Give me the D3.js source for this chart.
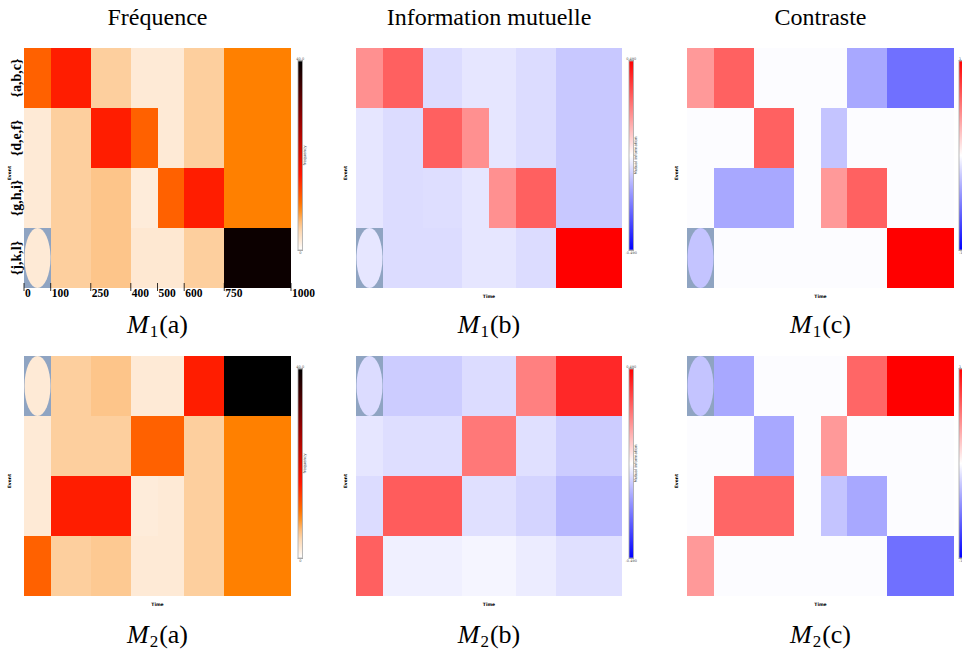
<!DOCTYPE html>
<html>
  <head>
    <meta charset="utf-8" />
    <script src="https://d3js.org/d3.v7.min.js"></script>
    <style>
      body { margin: 0; background: #fff; }
      svg { display: block; }
    </style>
  </head>
  <body>
    <svg id="fig" width="962" height="650"></svg>
    <script>
      // bins on the time axis and event groups
      const timeEdges = [0, 100, 250, 400, 500, 600, 750, 1000];
      const tickLabels = ["0", "100", "250", "400", "500", "600", "750", "1000"];
      const events = ["{a,b,c}", "{d,e,f}", "{g,h,i}", "{j,k,l}"];
      const columnTitles = ["Fréquence", "Information mutuelle", "Contraste"];
      const rowNames = ["1", "2"];
      const colLetters = ["a", "b", "c"];

      // M1 : frequency, mutual information, contrast (rows = events, cols = time bins)
      const freqM1 = [
        [11, 15.5, 5, 2, 2, 5, 9],
        [2, 5, 15.5, 11, 2, 5, 9],
        [2, 5, 5.5, 1.8, 11, 15.5, 9],
        [2, 5, 5.5, 2.2, 2.2, 5, 39]
      ];
      const miM1 = [
        [0.213, 0.306, -0.067, -0.049, -0.049, -0.067, -0.106],
        [-0.049, -0.067, 0.306, 0.213, -0.049, -0.067, -0.106],
        [-0.049, -0.067, -0.064, -0.049, 0.213, 0.306, -0.106],
        [-0.049, -0.067, -0.067, -0.049, -0.049, -0.067, 0.49]
      ];
      const contrastM1 = [
        [0.4, 0.62, -0.01, -0.01, -0.01, -0.34, -0.56],
        [-0.01, -0.01, 0.62, -0.01, -0.23, -0.01, -0.01],
        [-0.01, -0.34, -0.34, -0.01, 0.4, 0.62, -0.01],
        [-0.23, -0.01, -0.01, -0.01, -0.01, -0.01, 1]
      ];

      // M2
      const freqM2 = [
        [2, 5, 5.5, 2, 2, 15.5, 40],
        [2, 5, 5, 11, 11, 5, 9],
        [2, 15.5, 15.5, 1.8, 2, 5, 9],
        [11, 5, 5.3, 2, 2, 5, 9]
      ];
      const miM2 = [
        [-0.067, -0.098, -0.098, -0.067, -0.067, 0.245, 0.413],
        [-0.049, -0.064, -0.064, 0.26, 0.26, -0.059, -0.098],
        [-0.067, 0.314, 0.314, -0.059, -0.059, -0.083, -0.137],
        [0.306, -0.029, -0.029, -0.02, -0.02, -0.037, -0.059]
      ];
      const contrastM2 = [
        [-0.23, -0.34, -0.01, -0.01, -0.01, 0.6, 1],
        [-0.01, -0.01, -0.34, -0.01, 0.4, -0.01, -0.01],
        [-0.01, 0.6, 0.6, -0.01, -0.23, -0.34, -0.01],
        [0.4, -0.01, -0.01, -0.01, -0.01, -0.01, -0.56]
      ];

      const serif = "Liberation Serif, Times New Roman, serif";
      const svg = d3.select("#fig");
      const defs = svg.append("defs");

      var freqColor = d3
        .scaleLinear()
        .domain([0, 2, 5, 9, 16, 28, 40])
        .range(["#ffffff", "#feead6", "#fdcf9e", "#ff8000", "#ff1500", "#900000", "#000000"])
        .clamp(true);

      function divColor(m) {
        return d3
          .scaleLinear()
          .domain([-m, 0, m])
          .range(["#0000ff", "#ffffff", "#ff0000"])
          .clamp(true);
      }

      const panels = [
        { row: 0, col: 0, data: freqM1, color: freqColor, cb: ["40.0", "0"], cbName: "frequency" },
        { row: 0, col: 1, data: miM1, color: divColor(0.49), cb: ["0.490", "-0.490"], cbName: "Mutual information" },
        { row: 0, col: 2, data: contrastM1, color: divColor(1), cb: ["1", "-1"], cbName: "" },
        { row: 1, col: 0, data: freqM2, color: freqColor, cb: ["40.0", "0"], cbName: "frequency" },
        { row: 1, col: 1, data: miM2, color: divColor(0.49), cb: ["0.490", "-0.490"], cbName: "Mutual information" },
        { row: 1, col: 2, data: contrastM2, color: divColor(1), cb: ["1", "-1"], cbName: "" }
      ];

      // panel frames
      const plotX = [[24, 291], [356, 622], [687, 954]];
      const plotY = [[48, 288], [356, 596]];
      const cbX = [298, 629, 959];

      // column titles
      svg
        .selectAll(".title")
        .data(columnTitles)
        .enter()
        .append("text")
        .attr("x", (d, i) => (plotX[i][0] + plotX[i][1]) / 2)
        .attr("y", 25)
        .attr("text-anchor", "middle")
        .attr("font-family", serif)
        .attr("font-size", 24)
        .text((d) => d);

      panels.forEach(function (p, k) {
        var x = d3.scaleLinear().domain([0, 1000]).range(plotX[p.col]);
        var y = d3.scaleBand().domain(events).range(plotY[p.row]);
        var g = svg.append("g");

        var cells = [];
        p.data.forEach(function (row, r) {
          row.forEach(function (v, c) {
            cells.push({ ev: events[r], t0: timeEdges[c], t1: timeEdges[c + 1], v: v });
          });
        });

        g.selectAll("rect.cell")
          .data(cells)
          .enter()
          .append("rect")
          .attr("class", "cell")
          .attr("x", (d) => Math.round(x(d.t0)))
          .attr("y", (d) => Math.round(y(d.ev)))
          .attr("width", (d) => Math.round(x(d.t1)) - Math.round(x(d.t0)))
          .attr("height", Math.round(y.bandwidth()))
          .attr("shape-rendering", "crispEdges")
          .attr("fill", (d) => p.color(d.v));

        // odd corner artefact: the first bin of the bottom row (M1) / top row (M2)
        var odd = cells.filter(
          (d) => d.t0 === 0 && d.ev === (p.row === 0 ? events[3] : events[0])
        )[0];
        var ox = Math.round(x(odd.t0)), ow = Math.round(x(odd.t1)) - ox;
        var oy = Math.round(y(odd.ev)), oh = Math.round(y.bandwidth());
        g.append("rect")
          .attr("x", ox).attr("y", oy).attr("width", ow).attr("height", oh)
          .attr("shape-rendering", "crispEdges")
          .attr("fill", "#8fa4c2");
        g.append("ellipse")
          .attr("cx", ox + ow / 2).attr("cy", oy + oh / 2)
          .attr("rx", ow / 2 - 0.5).attr("ry", oh / 2)
          .attr("fill", p.color(odd.v));

        var y0 = plotY[p.row][0], y1 = plotY[p.row][1];
        var xm = (plotX[p.col][0] + plotX[p.col][1]) / 2;

        if (k === 0) {
          // bold tick labels on the first panel
          g.selectAll("line.tick")
            .data(timeEdges)
            .enter()
            .append("line")
            .attr("x1", (d) => x(d)).attr("x2", (d) => x(d))
            .attr("y1", y1 - 5).attr("y2", y1 + 3)
            .attr("stroke", "#000").attr("stroke-width", 0.8);
          g.selectAll("text.tick")
            .data(timeEdges)
            .enter()
            .append("text")
            .attr("x", (d) => x(d) + 1)
            .attr("y", y1 + 9)
            .attr("font-family", serif)
            .attr("font-weight", "bold")
            .attr("font-size", 11.5)
            .text((d, i) => tickLabels[i]);
          g.selectAll("text.ev")
            .data(events)
            .enter()
            .append("text")
            .attr("transform", (d) => "translate(21," + (y(d) + y.bandwidth() / 2) + ") rotate(-90)")
            .attr("text-anchor", "middle")
            .attr("font-family", serif)
            .attr("font-weight", "bold")
            .attr("font-size", 14)
            .text((d) => d);
        } else {
          g.append("text")
            .attr("x", xm).attr("y", y1 + 10)
            .attr("text-anchor", "middle")
            .attr("font-family", "DejaVu Sans, sans-serif")
            .attr("font-weight", "bold")
            .attr("font-size", 4.5)
            .text("Time");
        }
        g.append("text")
          .attr("transform", "translate(" + (plotX[p.col][0] - (p.col === 0 ? 13 : 9)) + "," + (y0 + 125) + ") rotate(-90)")
          .attr("text-anchor", "middle")
          .attr("font-family", "DejaVu Sans, sans-serif")
          .attr("font-weight", "bold")
          .attr("font-size", 4.5)
          .text("Event");

        // colour bar
        var gid = "grad" + k;
        var grad = defs.append("linearGradient")
          .attr("id", gid)
          .attr("x1", 0).attr("x2", 0).attr("y1", 1).attr("y2", 0);
        var dom = p.color.domain();
        var lo = dom[0], hi = dom[dom.length - 1];
        d3.range(0, 1.0001, 0.05).forEach(function (f) {
          grad.append("stop")
            .attr("offset", f)
            .attr("stop-color", p.color(lo + f * (hi - lo)));
        });
        var cbTop = y0 + 13, cbBot = y0 + 202;
        var cx = cbX[p.col];
        g.append("rect")
          .attr("x", cx).attr("y", cbTop)
          .attr("width", 4.5).attr("height", cbBot - cbTop)
          .attr("fill", "url(#" + gid + ")")
          .attr("stroke", "#a8a8a8").attr("stroke-width", 0.8);
        [cbTop - 0.5, cbBot + 0.5].forEach(function (yy) {
          g.append("line")
            .attr("x1", cx - 0.5).attr("x2", cx + 5)
            .attr("y1", yy).attr("y2", yy)
            .attr("stroke", "#999").attr("stroke-width", 0.8);
        });
        var anchor = p.col === 2 ? "start" : "middle";
        var lx = p.col === 2 ? cx : cx + 2.25;
        g.append("text")
          .attr("x", lx).attr("y", cbTop - 1.5)
          .attr("text-anchor", anchor)
          .attr("font-family", "DejaVu Sans, sans-serif")
          .attr("font-size", 3.5).attr("fill", "#555")
          .text(p.cb[0]);
        g.append("text")
          .attr("x", lx).attr("y", cbBot + 4)
          .attr("text-anchor", anchor)
          .attr("font-family", "DejaVu Sans, sans-serif")
          .attr("font-size", 3.5).attr("fill", "#555")
          .text(p.cb[1]);
        if (p.cbName) {
          g.append("text")
            .attr("transform", "translate(" + (cx + 7.5) + "," + ((cbTop + cbBot) / 2) + ") rotate(-90)")
            .attr("text-anchor", "middle")
            .attr("font-family", "DejaVu Sans, sans-serif")
            .attr("font-size", 4).attr("fill", "#444")
            .text(p.cbName);
        }

        // caption M_i(x)
        var cap = svg.append("text")
          .attr("x", xm)
          .attr("y", p.row === 0 ? 333 : 643)
          .attr("text-anchor", "middle")
          .attr("font-family", serif)
          .attr("font-size", 26);
        cap.append("tspan").attr("font-style", "italic").text("M");
        cap.append("tspan").attr("font-size", 17).attr("dx", 1).attr("dy", 4).text(rowNames[p.row]);
        cap.append("tspan").attr("dx", 1).attr("dy", -4).text("(" + colLetters[p.col] + ")");
      });
    </script>
  </body>
</html>
